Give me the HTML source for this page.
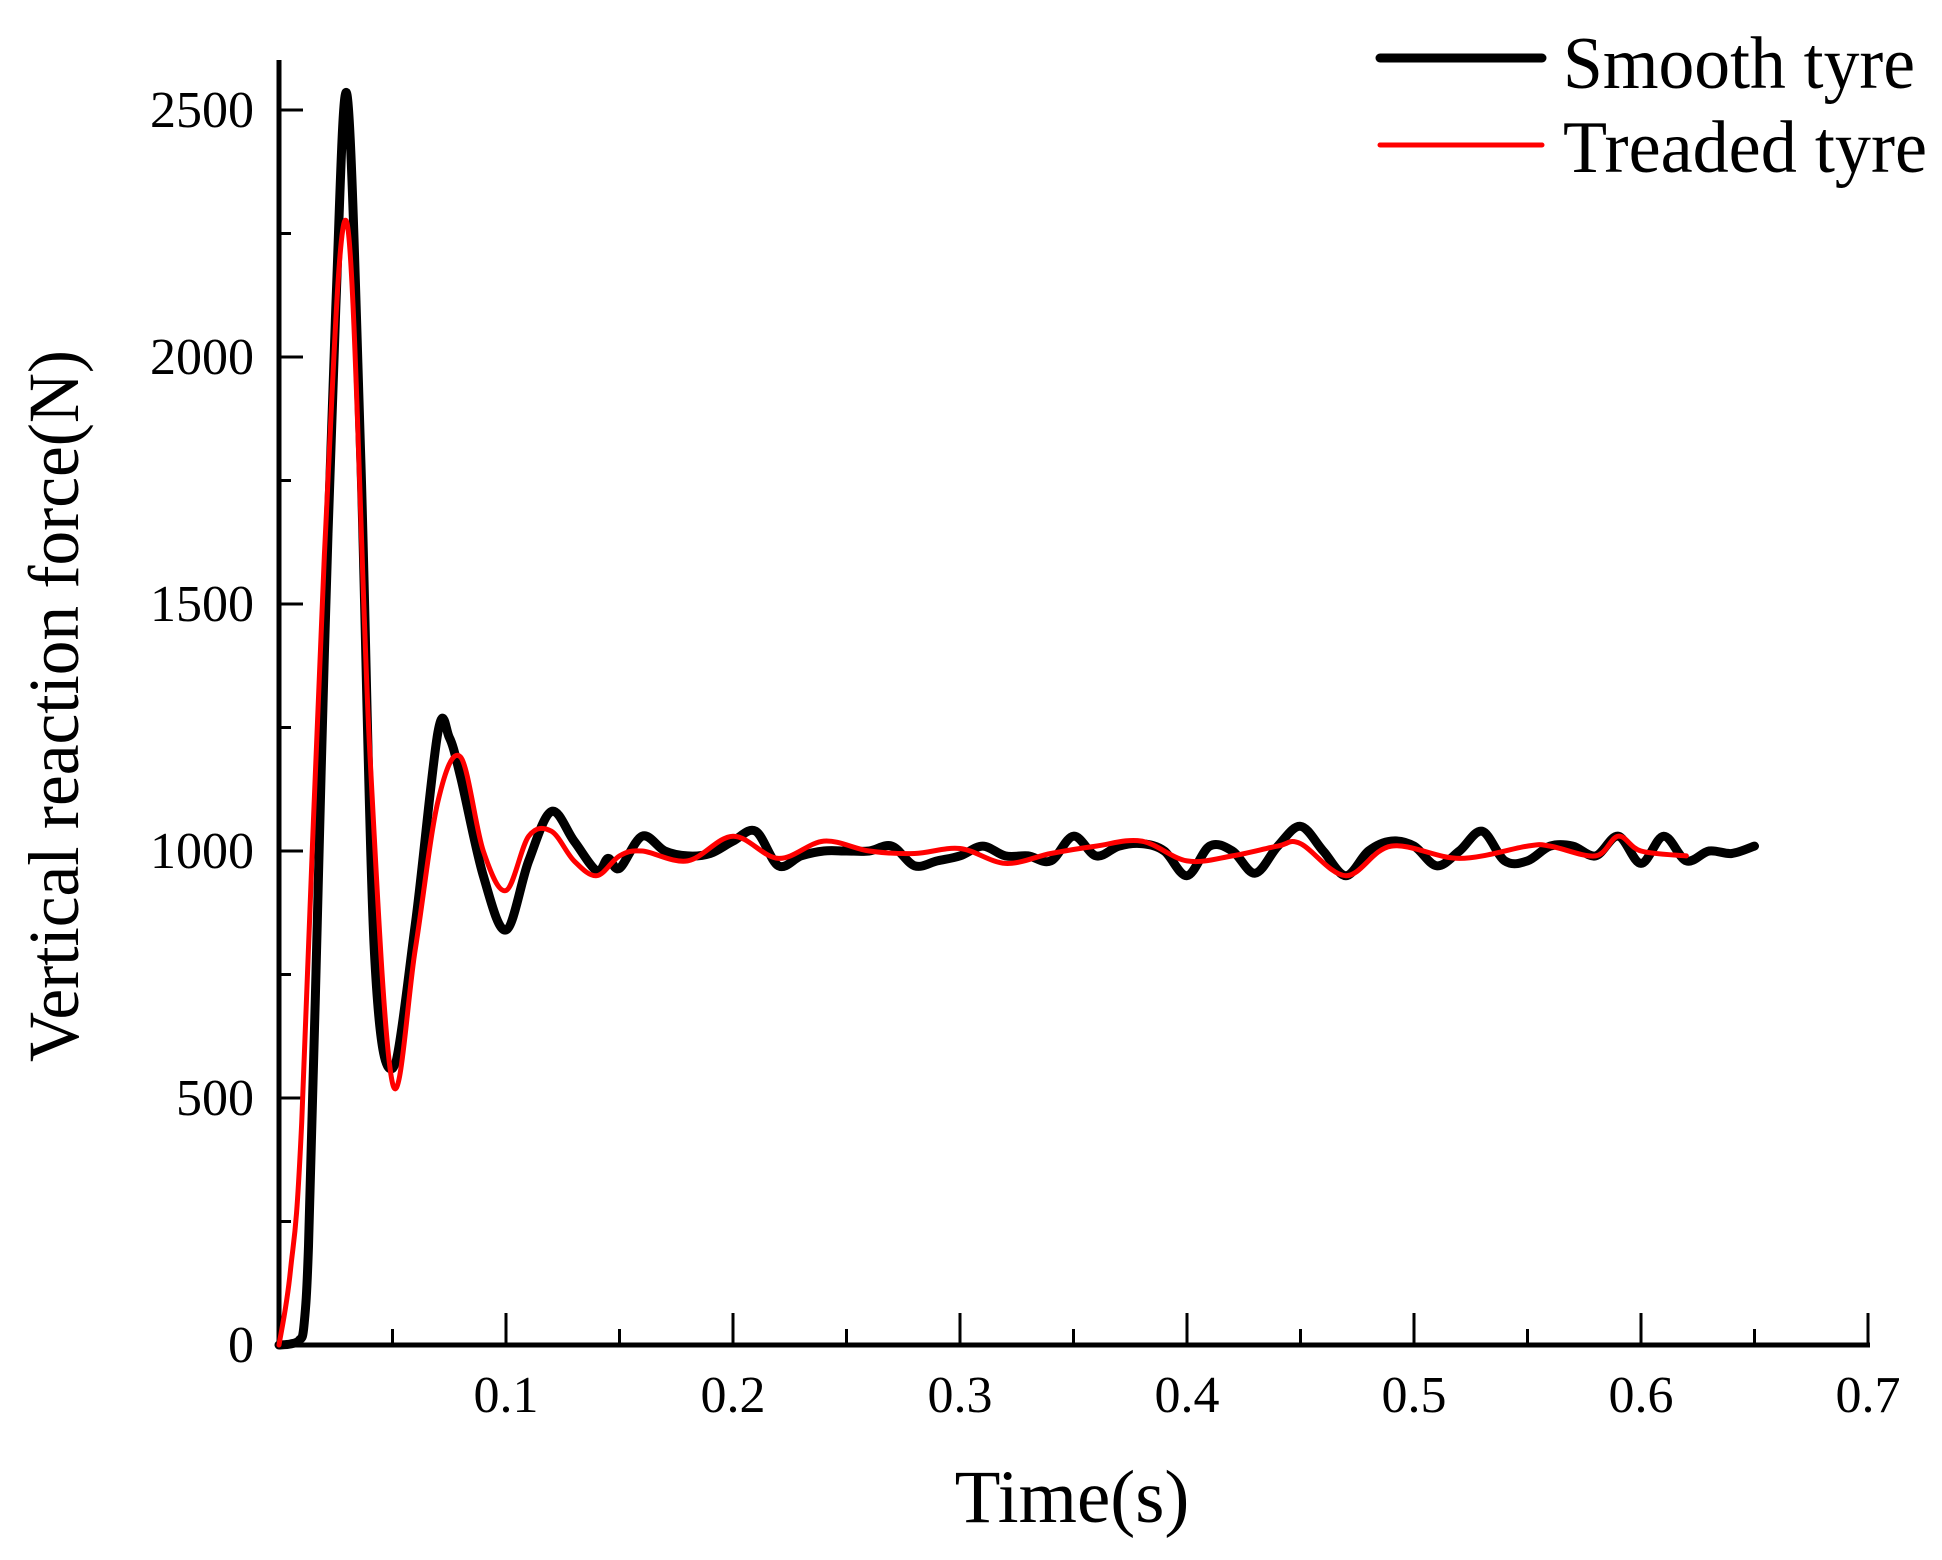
<!DOCTYPE html>
<html><head><meta charset="utf-8"><style>
html,body{margin:0;padding:0;background:#fff;}
svg{display:block;font-family:"Liberation Serif",serif;}
</style></head><body>
<svg id="chart" width="1942" height="1560" viewBox="0 0 1942 1560">
<g id="axes"></g>
<g id="series"></g>
<text x="1072" y="1522" font-size="75" text-anchor="middle">Time(s)</text>
<text transform="translate(78,706) rotate(-90)" font-size="72" text-anchor="middle" textLength="712" lengthAdjust="spacingAndGlyphs">Vertical reaction force(N)</text>
<g>
<line x1="1380" y1="58" x2="1542" y2="58" stroke="#000" stroke-width="9" stroke-linecap="round"/>
<text x="1563" y="88" font-size="74" textLength="352" lengthAdjust="spacingAndGlyphs">Smooth tyre</text>
<line x1="1380" y1="145" x2="1542" y2="145" stroke="#f00" stroke-width="5" stroke-linecap="round"/>
<text x="1563" y="172" font-size="74" textLength="364" lengthAdjust="spacingAndGlyphs">Treaded tyre</text>
</g>
</svg>
<script>
const xTicks=[0.1,0.2,0.3,0.4,0.5,0.6,0.7];
const xTickLabels=["0.1","0.2","0.3","0.4","0.5","0.6","0.7"];
const yTicks=[0,500,1000,1500,2000,2500];
const yTickLabels=["0","500","1000","1500","2000","2500"];
const smoothT=[0,0.005,0.009,0.011,0.013,0.016,0.02,0.025,0.03,0.036,0.042,0.05,0.06,0.07,0.075,0.08,0.09,0.1,0.11,0.12,0.13,0.14,0.145,0.15,0.16,0.17,0.18,0.19,0.2,0.21,0.22,0.23,0.24,0.25,0.26,0.27,0.28,0.29,0.3,0.31,0.32,0.33,0.34,0.35,0.36,0.37,0.38,0.39,0.4,0.41,0.42,0.43,0.44,0.45,0.46,0.47,0.48,0.49,0.5,0.51,0.52,0.53,0.54,0.55,0.56,0.57,0.58,0.59,0.6,0.61,0.62,0.63,0.64,0.65];
const smoothF=[0,2,10,40,200,700,1400,2100,2530,1800,800,560,850,1240,1230,1150,950,840,980,1080,1020,960,985,965,1030,1000,990,995,1020,1040,970,990,1000,1000,1000,1010,970,980,990,1010,990,990,980,1030,990,1010,1015,1000,950,1010,1000,955,1010,1050,1000,950,1000,1020,1010,970,1000,1040,980,980,1010,1010,990,1030,975,1030,980,1000,995,1010];
const treadT=[0,0.005,0.01,0.02,0.03,0.04,0.05,0.06,0.07,0.08,0.09,0.1,0.11,0.12,0.13,0.14,0.15,0.16,0.18,0.2,0.22,0.24,0.26,0.28,0.3,0.32,0.34,0.36,0.38,0.4,0.42,0.44,0.45,0.47,0.49,0.52,0.55,0.56,0.58,0.59,0.6,0.62];
const treadF=[0,150,450,1600,2270,1200,530,800,1100,1190,1000,920,1030,1040,980,950,990,1000,980,1030,985,1020,1000,995,1005,975,995,1010,1020,980,990,1010,1015,950,1010,985,1010,1010,990,1030,1000,990];

const X0=279,XPX=227/0.1,Y0=1345,YPX=247/500;
const xs=v=>X0+v*XPX, ys=v=>Y0-v*YPX;
const NS="http://www.w3.org/2000/svg";
const axes=document.getElementById('axes'), series=document.getElementById('series');
function mk(tag,attrs,parent){const e=document.createElementNS(NS,tag);for(const k in attrs)e.setAttribute(k,attrs[k]);parent.appendChild(e);return e;}

let a=mk('line',{x1:X0,y1:Y0,x2:xs(0.7)+2,y2:Y0,stroke:'#000','stroke-width':5},axes);


a=mk('line',{x1:X0,y1:60,x2:X0,y2:Y0+2,stroke:'#000','stroke-width':5},axes);



for(let i=0;i<xTicks.length;i++){
  const x=xs(xTicks[i]);
  let t=mk('line',{x1:x,y1:Y0,x2:x,y2:Y0-32,stroke:'#000','stroke-width':3},axes);
  
  
  const xm=xs(xTicks[i]-0.05);
  t=mk('line',{x1:xm,y1:Y0,x2:xm,y2:Y0-16,stroke:'#000','stroke-width':3},axes);
  
  
  const l=mk('text',{x:x,y:1412,'font-size':52,'text-anchor':'middle'},axes);
  l.textContent=xTickLabels[i];
  
  
}
for(let i=0;i<yTicks.length;i++){
  const y=ys(yTicks[i]);
  let t=mk('line',{x1:X0,y1:y,x2:X0+24,y2:y,stroke:'#000','stroke-width':3},axes);
  
  
  if(i<yTicks.length-1){
    const ym=ys(yTicks[i]+250);
    t=mk('line',{x1:X0,y1:ym,x2:X0+12,y2:ym,stroke:'#000','stroke-width':3},axes);
    
    
  }
  const l=mk('text',{x:254,y:y+17,'font-size':52,'text-anchor':'end'},axes);
  l.textContent=yTickLabels[i];
  
  
}
function pathD(T,F){
  const p=T.map((t,i)=>[xs(t),ys(F[i])]);
  let d='M'+p[0][0].toFixed(1)+','+p[0][1].toFixed(1);
  for(let i=0;i<p.length-1;i++){
    const p0=p[i-1]||p[i],p1=p[i],p2=p[i+1],p3=p[i+2]||p2;
    const c1=[p1[0]+(p2[0]-p0[0])/6,Math.min(Y0,p1[1]+(p2[1]-p0[1])/6)];
    const c2=[p2[0]-(p3[0]-p1[0])/6,Math.min(Y0,p2[1]-(p3[1]-p1[1])/6)];
    d+=' C'+c1.map(v=>v.toFixed(1)).join(',')+' '+c2.map(v=>v.toFixed(1)).join(',')+' '+p2.map(v=>v.toFixed(1)).join(',');
  }
  return d;
}
let s=mk('path',{d:pathD(smoothT,smoothF),fill:'none',stroke:'#000','stroke-width':9,'stroke-linejoin':'round','stroke-linecap':'round'},series);


s=mk('path',{d:pathD(treadT,treadF),fill:'none',stroke:'#f00','stroke-width':5,'stroke-linejoin':'round','stroke-linecap':'round'},series);


</script>
</body></html>
